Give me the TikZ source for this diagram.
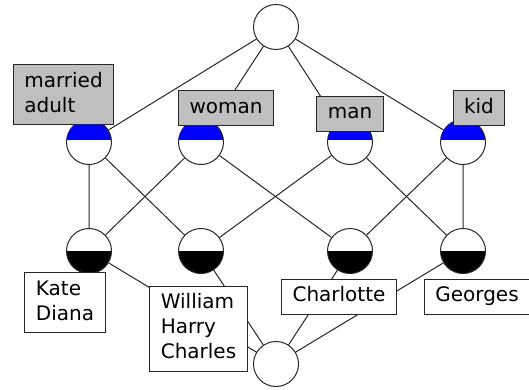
\documentclass[tikz,border=0pt]{standalone}
\usepackage{fontspec}
\setsansfont{DejaVu Sans}
\usetikzlibrary{backgrounds}

\tikzset{
  concept/.style={circle, draw=black!85, line width=1pt, fill=white, minimum size=45pt, inner sep=0pt},
  attr/.style={concept, path picture={\fill[blue] (path picture bounding box.north west) rectangle ([yshift=2pt]path picture bounding box.east);}},
  obj/.style={concept, path picture={\fill[black] (path picture bounding box.west) rectangle (path picture bounding box.south east);}},
  lbl/.style={draw=black!85, line width=1pt, font=\sffamily\fontsize{20}{25}\selectfont, align=left, inner xsep=11pt, inner ysep=5pt},
  attrlbl/.style={lbl, fill=gray!50},
  objlbl/.style={lbl, fill=white},
  link/.style={draw=black!85, line width=1pt}
}

\begin{document}
\begin{tikzpicture}[x=1pt, y=-1pt]
\useasboundingbox (0,0) rectangle (529,389);

\node[concept] (top) at (276,27) {};
\node[attr] (c1) at (89,142) {};
\node[attr] (c2) at (201,142) {};
\node[attr] (c3) at (350,142) {};
\node[attr] (c4) at (463,142) {};
\node[obj] (o1) at (89,251) {};
\node[obj] (o2) at (201,251) {};
\node[obj] (o3) at (350,251) {};
\node[obj] (o4) at (463,251) {};
\node[concept] (bot) at (276,364) {};

\node[attrlbl] (married) at (63.5,94.5) {married\strut\\adult\strut};
\node[attrlbl] (woman) at (226,108) {woman\strut};
\node[attrlbl] (man) at (350,113.5) {man\strut};
\node[attrlbl] (kid) at (479,108) {kid\strut};
\node[objlbl] (kate) at (65,302.5) {Kate\strut\\Diana\strut};
\node[objlbl] (william) at (198.5,328.5) {William\strut\\Harry\strut\\Charles\strut};
\node[objlbl] (charlotte) at (339,296.5) {Charlotte\strut};
\node[objlbl] (georges) at (477,296.5) {Georges\strut};

\begin{scope}[on background layer]
\foreach \c in {c1,c2,c3,c4} \draw[link] (top) -- (\c);
\foreach \o in {o1,o2,o3,o4} \draw[link] (\o) -- (bot);
\draw[link] (c1) -- (o1) (c1) -- (o2)
            (c2) -- (o1) (c2) -- (o3)
            (c3) -- (o2) (c3) -- (o4)
            (c4) -- (o3) (c4) -- (o4);
\end{scope}
\end{tikzpicture}
\end{document}
